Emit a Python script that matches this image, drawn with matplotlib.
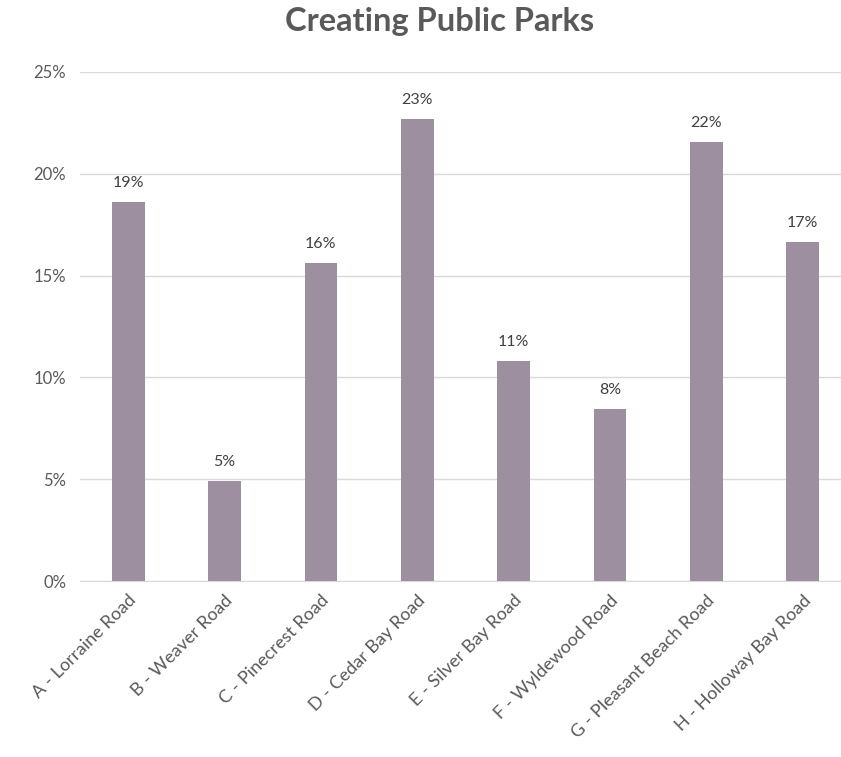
import matplotlib
matplotlib.use("Agg")
import matplotlib.pyplot as plt
from matplotlib.ticker import FuncFormatter

categories = ["A - Lorraine Road", "B - Weaver Road", "C - Pinecrest Road", "D - Cedar Bay Road",
              "E - Silver Bay Road", "F - Wyldewood Road", "G - Pleasant Beach Road", "H - Holloway Bay Road"]
values = [18.6, 4.9, 15.6, 22.7, 10.8, 8.45, 21.55, 16.65]
labels = ["19%", "5%", "16%", "23%", "11%", "8%", "22%", "17%"]
yticks = [0, 5, 10, 15, 20, 25]

plt.rcParams['font.family'] = ['Lato', 'DejaVu Sans']
txt = '#595959'

fig = plt.figure(figsize=(8.41, 7.57), dpi=100)
ax = fig.add_axes([80/841, 1-581/757, 771/841, (581-72)/757])
x = range(len(categories))
ax.bar(x, values, width=0.34, color='#9D8FA0', zorder=3)
for i, (v, l) in enumerate(zip(values, labels)):
    ax.text(i, v + 0.6, l, ha='center', va='bottom', fontsize=11.5, color='#404040')
ax.set_xlim(-0.5, 7.5)
ax.set_ylim(0, 25)
ax.set_yticks(yticks)
ax.yaxis.set_major_formatter(FuncFormatter(lambda v, p: f"{int(v)}%"))
ax.grid(axis='y', color='#D9D9D9', linewidth=1, zorder=0)
for s in ['top', 'right', 'left']:
    ax.spines[s].set_visible(False)
ax.spines['bottom'].set_color('#D9D9D9')
ax.tick_params(axis='both', length=0, colors=txt)
ax.tick_params(axis='y', pad=10, labelsize=12)
ax.set_xticks(list(x))
ax.set_xticklabels(categories, rotation=45, ha='right', rotation_mode='anchor', color=txt, fontsize=13)
ax.tick_params(axis='x', pad=8)
fig.text(440/841, 1-22/757, "Creating Public Parks", ha='center', va='center', fontsize=23.5, fontweight='bold', color=txt)
fig.savefig("out.png", dpi=100)
